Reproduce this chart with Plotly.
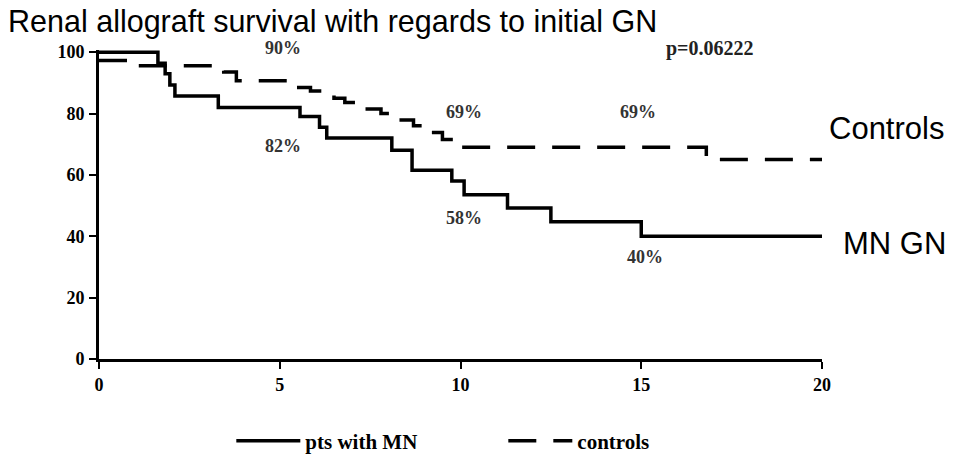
import plotly.graph_objects as go

# Kaplan-Meier style step data: time since transplant (years) and graft survival (%)
mn_time = [0, 1.63, 1.83, 1.96, 2.1, 3.3, 5.56, 6.1, 6.3, 8.1, 8.66, 9.76, 10.1, 11.3, 12.5, 15.0, 20]
mn_surv = [100, 96.4, 93.0, 89.3, 85.7, 82, 79, 75.5, 72, 68, 61.5, 58, 53.5, 49.2, 44.7, 40, 40]

ctrl_time = [0, 0.8, 3.45, 3.8, 5.45, 5.85, 6.5, 6.8, 7.3, 7.8, 8.15, 8.7, 8.95, 9.5, 9.9, 16.8, 20]
ctrl_surv = [97.3, 95.6, 93.5, 90.7, 88.5, 87.3, 85.0, 83.6, 81.5, 80.0, 77.9, 76.0, 73.8, 71.5, 69, 65, 65]

# survival rates written next to the curves: (time, y position, text)
pct_x = [5.1, 5.1, 10.1, 14.9, 10.1, 15.1]
pct_y = [100, 69.4, 80.5, 80.5, 46, 33.2]
pct_text = ["90%", "82%", "69%", "69%", "58%", "40%"]

p_value_text = "p=0.06222"
x_ticks = [0, 5, 10, 15, 20]
y_ticks = [0, 20, 40, 60, 80, 100]

serif = "Liberation Serif"
sans = "Liberation Sans"

fig = go.Figure()
fig.add_trace(go.Scatter(
    x=mn_time, y=mn_surv, mode="lines", line_shape="hv",
    line=dict(color="black", width=3.5),
    name="pts with MN",
))
fig.add_trace(go.Scatter(
    x=ctrl_time, y=ctrl_surv, mode="lines", line_shape="hv",
    line=dict(color="black", width=3.5, dash="28px,17px"),
    name="controls",
))

for x, y, t in zip(pct_x, pct_y, pct_text):
    fig.add_annotation(x=x, y=y, text=t, showarrow=False,
                       yshift=4 if y >= 100 else 0,
                       font=dict(family=serif, size=18, color="#333", weight="bold"))
fig.add_annotation(x=16.9, y=100, yshift=4, text=p_value_text, showarrow=False,
                   font=dict(family=serif, size=20, color="#222", weight="bold"))

# curve names at the right-hand side
label_font = dict(family=sans, size=31, color="black")
fig.add_annotation(x=(946 - 99) / 723, xref="paper", y=75.2, yref="y", text="Controls",
                   showarrow=False, xanchor="right", font=label_font)
fig.add_annotation(x=(948 - 99) / 723, xref="paper", y=37.8, yref="y", text="MN GN",
                   showarrow=False, xanchor="right", font=label_font)

fig.update_layout(
    width=954, height=456,
    margin=dict(l=99, r=132, t=50, b=97, autoexpand=False),
    paper_bgcolor="white", plot_bgcolor="white",
    title=dict(text="Renal allograft survival with regards to initial GN",
               x=8 / 954, xref="container", xanchor="left",
               y=1 - 21 / 456, yref="container", yanchor="middle",
               font=dict(family=sans, size=30.5, color="black")),
    showlegend=True,
    legend=dict(orientation="h", x=0.183, xanchor="left",
                y=1 - 441 / 456, yref="container", yanchor="middle",
                itemwidth=64, entrywidth=193, entrywidthmode="pixels",
                font=dict(family=serif, size=21, color="black", weight="bold"),
                bgcolor="rgba(0,0,0,0)"),
    xaxis=dict(range=[0, 20], tickvals=x_ticks, showgrid=False, zeroline=False,
               showline=True, linecolor="black", linewidth=3,
               ticks="outside", ticklen=7, tickwidth=2, tickcolor="black",
               ticklabelstandoff=0,
               tickfont=dict(family=serif, size=18, color="black", weight="bold")),
    # a little headroom above 100 so the 100% segment is not clipped
    yaxis=dict(range=[0, 100.7], tickvals=y_ticks, showgrid=False, zeroline=False,
               showline=True, linecolor="black", linewidth=3,
               ticks="outside", ticklen=7, tickwidth=2, tickcolor="black",
               ticklabelstandoff=1,
               tickfont=dict(family=serif, size=18, color="black", weight="bold")),
)

fig.write_html("out.html")
